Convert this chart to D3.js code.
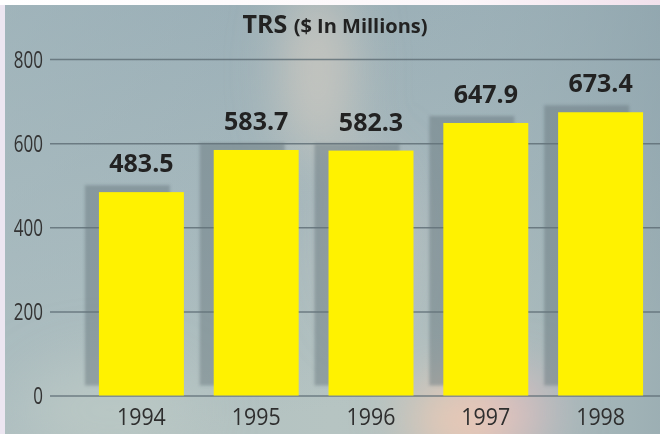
<!DOCTYPE html>
<html>
<head>
<meta charset="utf-8">
<script src="https://cdn.jsdelivr.net/npm/d3@7"></script>
<style>
  html, body { margin: 0; padding: 0; background: #fff; }
  svg { display: block; font-family: "Open Sans", "DejaVu Sans", sans-serif; }
</style>
</head>
<body>
<div id="chart"></div>
<script>
  const years = ["1994", "1995", "1996", "1997", "1998"];
  const trs = [483.5, 583.7, 582.3, 647.9, 673.4];
  const yTicks = [0, 200, 400, 600, 800];

  const width = 660;
  const height = 434;

  let svg = d3.select("#chart")
    .append("svg")
    .attr("width", width)
    .attr("height", height);

  let defs = svg.append("defs");

  // background gradients
  let bgGrad = defs.append("linearGradient")
    .attr("id", "bgGrad")
    .attr("x1", 0).attr("y1", 0).attr("x2", 0.25).attr("y2", 1);
  bgGrad.append("stop").attr("offset", "0%").attr("stop-color", "#97acb5");
  bgGrad.append("stop").attr("offset", "55%").attr("stop-color", "#a5b7bc");
  bgGrad.append("stop").attr("offset", "100%").attr("stop-color", "#b6c4c2");

  let sideGrad = defs.append("linearGradient")
    .attr("id", "sideGrad")
    .attr("x1", 0).attr("y1", 0).attr("x2", 1).attr("y2", 0);
  sideGrad.append("stop").attr("offset", "0%").attr("stop-color", "#a9bcc0").attr("stop-opacity", 0.5);
  sideGrad.append("stop").attr("offset", "50%").attr("stop-color", "#a9bcc0").attr("stop-opacity", 0);
  sideGrad.append("stop").attr("offset", "100%").attr("stop-color", "#8ba1aa").attr("stop-opacity", 0.6);

  let topGrad = defs.append("linearGradient")
    .attr("id", "topGrad")
    .attr("x1", 0).attr("y1", 0).attr("x2", 1).attr("y2", 0);
  topGrad.append("stop").attr("offset", "0%").attr("stop-color", "#ffffff");
  topGrad.append("stop").attr("offset", "70%").attr("stop-color", "#fbf6f9");
  topGrad.append("stop").attr("offset", "100%").attr("stop-color", "#f1e1ec");

  defs.append("filter").attr("id", "glow")
    .attr("x", "-50%").attr("y", "-50%").attr("width", "200%").attr("height", "200%")
    .append("feGaussianBlur").attr("stdDeviation", 28);

  defs.append("filter").attr("id", "shadowBlur")
    .attr("x", "-20%").attr("y", "-20%").attr("width", "140%").attr("height", "140%")
    .append("feGaussianBlur").attr("stdDeviation", 1.6);

  defs.append("clipPath").attr("id", "plotClip")
    .append("rect").attr("x", 5).attr("y", 5).attr("width", width - 5).attr("height", height - 5);

  svg.append("rect").attr("width", width).attr("height", height).attr("fill", "#ece6f1");
  svg.append("rect").attr("width", width).attr("height", 5).attr("fill", "url(#topGrad)");

  let bg = svg.append("g").attr("clip-path", "url(#plotClip)");
  bg.append("rect").attr("x", 5).attr("y", 5).attr("width", width - 5).attr("height", height - 5)
    .attr("fill", "url(#bgGrad)");
  bg.append("rect").attr("x", 5).attr("y", 5).attr("width", width - 5).attr("height", height - 5)
    .attr("fill", "url(#sideGrad)");

  // soft rainbow light streak
  let glow = bg.append("g").attr("filter", "url(#glow)");
  glow.append("ellipse").attr("cx", 318).attr("cy", 70).attr("rx", 30).attr("ry", 90)
    .attr("fill", "#e2d4c4").attr("opacity", 0.7);
  glow.append("ellipse").attr("cx", 370).attr("cy", 240).attr("rx", 35).attr("ry", 90)
    .attr("fill", "#d6ccc4").attr("opacity", 0.5);
  glow.append("ellipse").attr("cx", 470).attr("cy", 420).attr("rx", 60).attr("ry", 45)
    .attr("fill", "#f4cbb4").attr("opacity", 0.9);
  glow.append("ellipse").attr("cx", 520).attr("cy", 410).attr("rx", 30).attr("ry", 40)
    .attr("fill", "#e6b9c4").attr("opacity", 0.6);
  glow.append("ellipse").attr("cx", 110).attr("cy", 410).attr("rx", 90).attr("ry", 50)
    .attr("fill", "#bfcbc6").attr("opacity", 0.6);

  // scales
  let x = d3.scaleBand()
    .domain(years)
    .range([84, 658])
    .paddingInner(0.26)
    .paddingOuter(0.13);

  let y = d3.scaleLinear()
    .domain([0, 800])
    .range([395.5, 59]);

  // gridlines + y labels
  let yAxis = svg.append("g")
    .attr("transform", "translate(50,0)")
    .call(d3.axisLeft(y).tickValues(yTicks).tickSize(-(width - 50)).tickPadding(0));
  yAxis.select(".domain").remove();
  yAxis.selectAll(".tick line")
    .attr("stroke", "#5c6c73")
    .attr("stroke-width", 1.5)
    .attr("stroke-opacity", 0.8);
  yAxis.selectAll(".tick text")
    .attr("x", null)
    .attr("dy", null)
    .attr("transform", "translate(-7,8) scale(0.74,1)")
    .attr("font-family", "'Open Sans', sans-serif")
    .attr("font-weight", 400)
    .attr("font-size", 23)
    .attr("fill", "#333");

  // bars
  let bars = svg.append("g");
  bars.selectAll("rect.shadow")
    .data(trs)
    .enter()
    .append("rect")
      .attr("class", "shadow")
      .attr("x", (d, i) => x(years[i]) - 14)
      .attr("y", d => y(d) - 7)
      .attr("width", x.bandwidth())
      .attr("height", d => y(0) - y(d) - 3)
      .attr("fill", "#65737a")
      .attr("opacity", 0.45)
      .attr("filter", "url(#shadowBlur)");

  bars.selectAll("rect.bar")
    .data(trs)
    .enter()
    .append("rect")
      .attr("class", "bar")
      .attr("x", (d, i) => x(years[i]))
      .attr("y", d => y(d))
      .attr("width", x.bandwidth())
      .attr("height", d => y(0) - y(d))
      .attr("fill", "#fff200");

  // value labels
  svg.append("g").selectAll("text")
    .data(trs)
    .enter()
    .append("text")
      .attr("transform", (d, i) => "translate(" + (x(years[i]) + x.bandwidth() / 2) + "," + (y(d) - 20) + ")")
      .attr("text-anchor", "middle")
      .attr("font-weight", 700)
      .attr("font-size", 25)
      .attr("fill", "#222")
      .text(d => d.toFixed(1));

  // year labels
  svg.append("g").selectAll("text")
    .data(years)
    .enter()
    .append("text")
      .attr("transform", d => "translate(" + (x(d) + x.bandwidth() / 2) + ",425) scale(0.93,1)")
      .attr("text-anchor", "middle")
      .attr("font-weight", 400)
      .attr("font-size", 23)
      .attr("fill", "#2e2e2e")
      .text(d => d);

  // title
  let title = svg.append("text")
    .attr("x", 335)
    .attr("y", 33)
    .attr("text-anchor", "middle")
    .attr("fill", "#222")
    .attr("font-weight", 700);
  title.append("tspan").attr("font-size", 25).text("TRS ");
  title.append("tspan").attr("font-size", 20).text("($ In Millions)");
</script>
</body>
</html>
